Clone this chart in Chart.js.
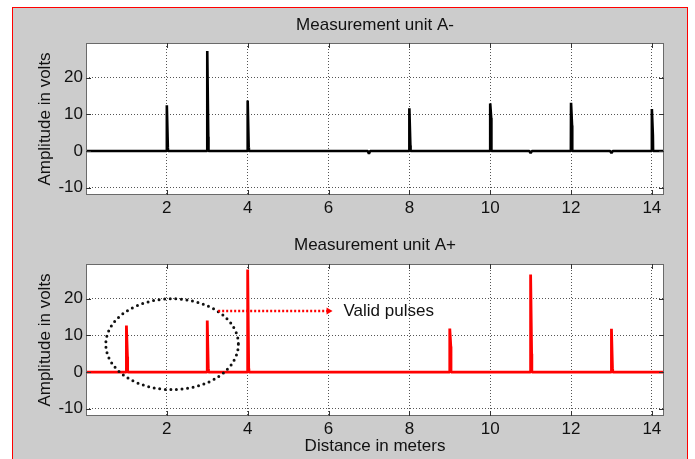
<!DOCTYPE html>
<html>
<head>
<meta charset="utf-8">
<script src="https://cdn.jsdelivr.net/npm/chart.js@4.4.1/dist/chart.umd.min.js"></script>
<style>
html,body{margin:0;padding:0;background:#ffffff;width:695px;height:459px;overflow:hidden;}
#frame{position:absolute;left:12px;top:7px;width:676px;height:470px;border:1px solid #ff0000;background:#cccccc;box-sizing:border-box;}
.wrap{position:absolute;left:0;}
canvas{display:block;}
</style>
</head>
<body>
<div id="frame"></div>
<div class="wrap" style="top:0;"><canvas id="topChart" width="695" height="230"></canvas></div>
<div class="wrap" style="top:230px;"><canvas id="botChart" width="695" height="229"></canvas></div>
<script>
// ---- data ----
const xTicks = [2, 4, 6, 8, 10, 12, 14];
const yTicks = [-10, 0, 10, 20];
const xMin = 0, xMax = 14.3;
const yMin = -12, yMax = 29.5;

// Measurement unit A- (distance in m, amplitude in V)
const topX = [0, 1.996, 2.00, 2.025, 2.03, 2.996, 3.00, 3.025, 3.03, 3.996, 4.00, 4.025, 4.03,
  6.97, 7.00, 7.03, 7.996, 8.00, 8.025, 8.03, 9.996, 10.00, 10.025, 10.03,
  10.97, 11.00, 11.03, 11.996, 12.00, 12.025, 12.03, 12.97, 13.00, 13.03,
  13.996, 14.00, 14.025, 14.03, 14.3];
const topY = [0, 0, 12.5, 1.0, 0, 0, 27.3, 3.9, 0, 0, 13.8, 1.0, 0,
  0, -0.7, 0, 0, 11.7, 1.5, 0, 0, 13.0, 9.0, 0,
  0, -0.6, 0, 0, 13.2, 7.0, 0, 0, -0.6, 0,
  0, 11.5, 4.3, 0, 0];

// Measurement unit A+
const botX = [0, 0.996, 1.00, 1.025, 1.03, 2.996, 3.00, 3.025, 3.03, 3.996, 4.00, 4.025, 4.03,
  8.996, 9.00, 9.025, 9.03, 10.996, 11.00, 11.025, 11.03, 12.996, 13.00, 13.025, 13.03, 14.3];
const botY = [0, 0, 12.7, 4.2, 0, 0, 14.1, 1.0, 0, 0, 28.0, 1.0, 0,
  0, 11.9, 7.0, 0, 0, 26.6, 5.0, 0, 0, 11.8, 1.0, 0, 0];

// annotation (data units)
const ellipseC = [2.13, 7.6];
const ellipseR = [1.64, 12.4];
const arrowX = [3.27, 6.1];
const arrowY = 16.7;
const noteText = 'Valid pulses';
const noteX = 6.37;

const FONT = 'Liberation Sans, Arial, sans-serif';
const FS = 17;

const boxPlugin = {
  id: 'boxPlugin',
  beforeDraw(chart) {
    const {ctx, chartArea: a} = chart;
    ctx.save();
    ctx.fillStyle = '#ffffff';
    ctx.fillRect(a.left, a.top, a.right - a.left, a.bottom - a.top);
    ctx.restore();
  },
  afterDatasetsDraw(chart) {
    const {ctx, chartArea: a, scales} = chart;
    ctx.save();
    ctx.strokeStyle = '#6a6a6a';
    ctx.lineWidth = 1;
    ctx.strokeRect(Math.round(a.left) + 0.5, Math.round(a.top) + 0.5,
      Math.round(a.right - a.left) - 1, Math.round(a.bottom - a.top) - 1);
    ctx.strokeStyle = '#333333';
    const tl = 5;
    ctx.beginPath();
    xTicks.forEach(v => {
      const px = Math.round(scales.x.getPixelForValue(v)) + 0.5;
      ctx.moveTo(px, a.bottom); ctx.lineTo(px, a.bottom - tl);
      ctx.moveTo(px, a.top); ctx.lineTo(px, a.top + tl);
    });
    yTicks.forEach(v => {
      const py = Math.round(scales.y.getPixelForValue(v)) + 0.5;
      ctx.moveTo(a.left, py); ctx.lineTo(a.left + tl, py);
      ctx.moveTo(a.right, py); ctx.lineTo(a.right - tl, py);
    });
    ctx.stroke();
    ctx.restore();
  }
};

const notePlugin = {
  id: 'notePlugin',
  afterDatasetsDraw(chart) {
    const {ctx, scales} = chart;
    const sx = scales.x, sy = scales.y;
    ctx.save();
    // dotted ellipse
    const cx = sx.getPixelForValue(ellipseC[0]);
    const cy = sy.getPixelForValue(ellipseC[1]);
    const rx = sx.getPixelForValue(ellipseC[0] + ellipseR[0]) - cx;
    const ry = cy - sy.getPixelForValue(ellipseC[1] + ellipseR[1]);
    ctx.strokeStyle = '#111111';
    ctx.lineWidth = 3;
    ctx.lineCap = 'round';
    ctx.setLineDash([0, 5.6]);
    ctx.beginPath();
    ctx.ellipse(cx, cy, rx, ry, 0, 0, Math.PI * 2);
    ctx.stroke();
    // dotted red arrow
    const ay = Math.round(sy.getPixelForValue(arrowY));
    const ax0 = sx.getPixelForValue(arrowX[0]);
    const ax1 = sx.getPixelForValue(arrowX[1]);
    ctx.strokeStyle = '#ff0000';
    ctx.lineCap = 'butt';
    ctx.lineWidth = 2.5;
    ctx.setLineDash([2, 2]);
    ctx.beginPath();
    ctx.moveTo(ax0, ay);
    ctx.lineTo(ax1 - 5, ay);
    ctx.stroke();
    ctx.setLineDash([]);
    ctx.fillStyle = '#ff0000';
    ctx.beginPath();
    ctx.moveTo(ax1, ay);
    ctx.lineTo(ax1 - 6, ay - 3.5);
    ctx.lineTo(ax1 - 6, ay + 3.5);
    ctx.closePath();
    ctx.fill();
    // text
    ctx.fillStyle = '#111111';
    ctx.font = FS + 'px ' + FONT;
    ctx.textAlign = 'left';
    ctx.textBaseline = 'middle';
    ctx.fillText(noteText, sx.getPixelForValue(noteX), ay);
    ctx.restore();
  }
};

function makeChart(id, xs, ys, color, lw, title, xTitle, L) {
  const pts = xs.map((x, i) => ({x: x, y: ys[i]}));
  return new Chart(document.getElementById(id), {
    type: 'line',
    data: {datasets: [{
      data: pts, borderColor: color, borderWidth: lw, pointRadius: 0,
      tension: 0, fill: false, borderJoinStyle: 'bevel', borderCapStyle: 'butt'
    }]},
    options: {
      responsive: false, animation: false, events: [],
      layout: {padding: {left: 26, right: 31, top: 0, bottom: 0}},
      plugins: {
        legend: {display: false}, tooltip: {enabled: false},
        title: {display: true, text: title, color: '#111111', fullSize: false,
          font: {family: FONT, size: FS, weight: 'normal'},
          padding: {top: L.tPadTop, bottom: L.tPadBot}}
      },
      scales: {
        x: {
          type: 'linear', min: xMin, max: xMax,
          afterBuildTicks: s => { s.ticks = xTicks.map(v => ({value: v})); },
          afterFit: s => { s.height = L.xH; },
          ticks: {autoSkip: false, maxRotation: 0, padding: 3, color: '#111111',
            font: {family: FONT, size: FS}, callback: v => String(v)},
          grid: {color: '#555555', lineWidth: 1, drawTicks: false},
          border: {display: false, dash: [1, 2]},
          title: {display: !!xTitle, text: xTitle || '', color: '#111111',
            font: {family: FONT, size: FS}, padding: {top: 0, bottom: 2.8}}
        },
        y: {
          type: 'linear', min: yMin, max: yMax,
          afterBuildTicks: s => { s.ticks = yTicks.map(v => ({value: v})); },
          afterFit: s => { s.width = 60; },
          ticks: {autoSkip: false, padding: 3, color: '#111111',
            font: {family: FONT, size: FS}, callback: v => String(v)},
          grid: {color: '#555555', lineWidth: 1, drawTicks: false},
          border: {display: false, dash: [1, 2]},
          title: {display: true, text: 'Amplitude in volts', color: '#111111',
            font: {family: FONT, size: FS}, padding: {top: 8.8, bottom: 0}}
        }
      }
    },
    plugins: L.plugins
  });
}

makeChart('topChart', topX, topY, '#000000', 2.6, 'Measurement unit A-', null,
  {tPadTop: 14.8, tPadBot: 7.8, xH: 35, plugins: [boxPlugin]});
makeChart('botChart', botX, botY, '#ff0000', 2.8, 'Measurement unit A+', 'Distance in meters',
  {tPadTop: 4.8, tPadBot: 8.8, xH: 43, plugins: [boxPlugin, notePlugin]});
</script>
</body>
</html>
